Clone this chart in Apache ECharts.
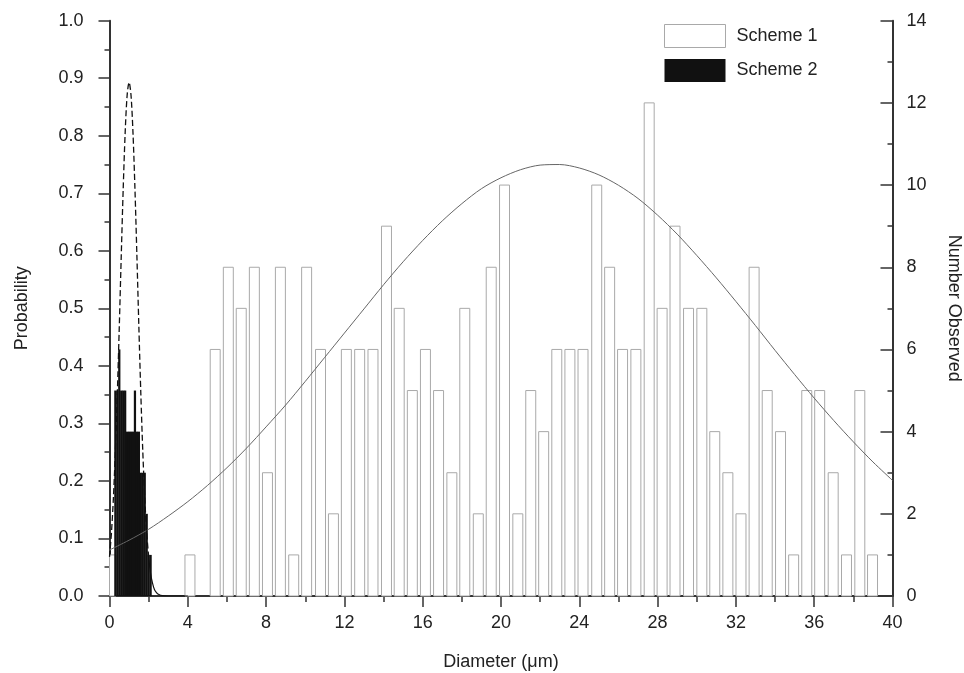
<!DOCTYPE html>
<html>
<head>
<meta charset="utf-8">
<script src="https://cdn.jsdelivr.net/npm/echarts@6/dist/echarts.min.js"></script>
<style>
html,body{margin:0;padding:0;background:#fff;}
#chart{width:964px;height:673px;}
</style>
</head>
<body>
<div id="chart"></div>
<script>
// Scheme 1 histogram: bin centres (µm) and counts (Number Observed)
var scheme1Centers = [0.08, 4.11, 5.40, 6.07, 6.73, 7.40, 8.07, 8.73, 9.41, 10.07, 10.78, 11.44, 12.10, 12.78, 13.46,
  14.15, 14.80, 15.47, 16.14, 16.81, 17.49, 18.15, 18.84, 19.50, 20.18, 20.86, 21.52, 22.18, 22.85, 23.52, 24.19,
  24.89, 25.55, 26.21, 26.89, 27.57, 28.23, 28.89, 29.58, 30.26, 30.92, 31.59, 32.26, 32.93, 33.60, 34.28, 34.95,
  35.62, 36.28, 36.97, 37.65, 38.33, 38.98];
var scheme1Counts = [1, 1, 6, 8, 7, 8, 3, 8, 1, 8, 6, 2, 6, 6, 6,
  9, 7, 5, 6, 5, 3, 7, 2, 8, 10, 2, 5, 4, 6, 6, 6,
  10, 8, 6, 6, 12, 7, 9, 7, 7, 4, 3, 2, 8, 5, 4, 1,
  5, 5, 3, 1, 5, 1];

// Scheme 2 histogram: bin centres (µm) and counts
var scheme2Centers = [0.30, 0.40, 0.50, 0.60, 0.70, 0.80, 0.90, 1.00, 1.10, 1.20, 1.30, 1.40, 1.50, 1.60, 1.70, 1.80, 1.90, 2.00, 2.10];
var scheme2Counts = [5, 5, 6, 5, 5, 5, 4, 4, 4, 4, 5, 4, 4, 3, 3, 3, 2, 1, 1];

// Scheme 1 fitted distribution (solid)
var fit1X = [0,1,2,3,4,5,6,7,8,9,10,11,12,13,14,15,16,17,18,19,20,21,22,23,24,25,26,27,28,29,30,31,32,33,34,35,36,37,38,39,40];
var fit1P = [0.080,0.097,0.116,0.139,0.164,0.192,0.223,0.257,0.294,0.332,0.373,0.415,0.457,0.499,0.541,0.581,0.618,0.652,0.682,0.708,0.727,0.741,0.749,0.750,0.744,0.732,0.714,0.691,0.662,0.629,0.592,0.553,0.512,0.470,0.427,0.385,0.344,0.305,0.268,0.233,0.201];

// Scheme 2 fitted distribution (dashed part and solid tail)
var fit2X = [0,0.1,0.2,0.3,0.4,0.5,0.6,0.7,0.8,0.9,1.0,1.1,1.2,1.3,1.4,1.5,1.6,1.7,1.8,1.9,2.0];
var fit2P = [0.068,0.110,0.171,0.252,0.352,0.468,0.591,0.708,0.805,0.870,0.893,0.870,0.805,0.708,0.591,0.468,0.352,0.252,0.171,0.110,0.068];
var tail2X = [2.0,2.1,2.2,2.3,2.4,2.5,2.7,3.0,4.0];
var tail2P = [0.068,0.039,0.022,0.011,0.006,0.003,0.0005,0,0];

var xTicks = [0,4,8,12,16,20,24,28,32,36,40];

function pairs(xs, ys){ return xs.map(function(x,i){ return [x, ys[i]]; }); }

// histogram bar drawn through the axes' own scales, clipped to the plot area
function histBar(binWidth){
  return function(params, api){
    var x = api.value(0), y = api.value(1);
    var p0 = api.coord([x - binWidth/2, 0]);
    var p1 = api.coord([x + binWidth/2, y]);
    var cs = params.coordSys;
    var rect = echarts.graphic.clipRectByRect(
      {x:p0[0], y:p1[1], width:p1[0]-p0[0], height:p0[1]-p1[1]},
      {x:cs.x, y:cs.y, width:cs.width, height:cs.height});
    return rect && {type:'rect', shape:rect, style:api.style()};
  };
}

var FONT = 'Liberation Sans, Arial, Helvetica, sans-serif';
var AX = '#333';
var chart = echarts.init(document.getElementById('chart'), null, {renderer:'canvas'});

chart.setOption({
  animation:false,
  backgroundColor:'#fff',
  textStyle:{fontFamily:FONT},
  grid:{left:109.5, right:71.5, top:20.7, bottom:77, containLabel:false, outerBoundsMode:'none'},
  legend:{
    data:[
      {name:'Scheme 1', itemStyle:{color:'#ffffff', borderColor:'#a9a9a9', borderWidth:1}},
      {name:'Scheme 2', itemStyle:{color:'#111111', borderWidth:0}}
    ],
    orient:'vertical', left:664, top:24, padding:0,
    itemWidth:61, itemHeight:23, itemGap:11, icon:'rect',
    textStyle:{fontSize:18, color:'#222', fontFamily:FONT, padding:[0,0,0,6]}
  },
  xAxis:[{
    type:'value', min:0, max:40, interval:4,
    axisLine:{show:true, onZero:false, lineStyle:{color:AX, width:2}},
    axisTick:{show:true, length:11, lineStyle:{color:AX, width:1.5}},
    minorTick:{show:true, splitNumber:2, length:6, lineStyle:{color:AX, width:1.5}},
    splitLine:{show:false},
    axisLabel:{fontSize:18, color:'#222', margin:18, fontFamily:FONT,
      formatter:function(v){ return xTicks.indexOf(v) >= 0 ? String(v) : ''; }},
    name:'Diameter (\u03bcm)', nameLocation:'middle', nameGap:57,
    nameTextStyle:{fontSize:18, color:'#222', fontFamily:FONT}
  }],
  yAxis:[{
    type:'value', position:'left', min:0, max:1, interval:0.1,
    axisLine:{show:true, onZero:false, lineStyle:{color:AX, width:2}},
    axisTick:{show:true, length:11, lineStyle:{color:AX, width:1.5}},
    minorTick:{show:true, splitNumber:2, length:5, lineStyle:{color:AX, width:1.5}},
    splitLine:{show:false},
    axisLabel:{fontSize:18, color:'#222', margin:26, fontFamily:FONT,
      formatter:function(v){ return v.toFixed(1); }},
    name:'Probability', nameLocation:'middle', nameGap:78, nameRotate:90,
    nameTextStyle:{fontSize:18, color:'#222', fontFamily:FONT}
  },{
    type:'value', position:'right', min:0, max:14, interval:2,
    axisLine:{show:true, onZero:false, lineStyle:{color:AX, width:2}},
    axisTick:{show:true, inside:true, length:12, lineStyle:{color:AX, width:1.5}},
    minorTick:{show:true, splitNumber:2, length:5, lineStyle:{color:AX, width:1.5}},
    splitLine:{show:false},
    axisLabel:{fontSize:18, color:'#222', margin:14, fontFamily:FONT},
    name:'Number Observed', nameLocation:'middle', nameGap:52, nameRotate:-90,
    nameTextStyle:{fontSize:18, color:'#222', fontFamily:FONT}
  }],
  series:[{
    name:'Scheme 1', type:'custom', xAxisIndex:0, yAxisIndex:1,
    renderItem:histBar(0.51),
    encode:{x:0, y:1},
    data:pairs(scheme1Centers, scheme1Counts),
    itemStyle:{color:'#ffffff', borderColor:'#a9a9a9', borderWidth:1}
  },{
    name:'Scheme 2', type:'custom', xAxisIndex:0, yAxisIndex:1,
    renderItem:histBar(0.115),
    encode:{x:0, y:1},
    data:pairs(scheme2Centers, scheme2Counts),
    itemStyle:{color:'#111111', borderWidth:0}
  },{
    name:'fit1', type:'line', xAxisIndex:0, yAxisIndex:0, showSymbol:false, symbol:'none',
    smooth:0.3, data:pairs(fit1X, fit1P), z:5,
    lineStyle:{color:'#666', width:1}
  },{
    name:'fit2', type:'line', xAxisIndex:0, yAxisIndex:0, showSymbol:false, symbol:'none',
    smooth:0.3, data:pairs(fit2X, fit2P), z:5,
    lineStyle:{color:'#111', width:1.3, type:[6,3]}
  },{
    name:'fit2tail', type:'line', xAxisIndex:0, yAxisIndex:0, showSymbol:false, symbol:'none',
    smooth:0.3, data:pairs(tail2X, tail2P), z:5,
    lineStyle:{color:'#111', width:1.2}
  }]
});
</script>
</body>
</html>
